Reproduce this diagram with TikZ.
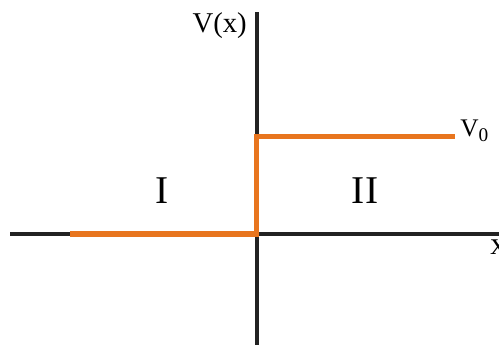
\documentclass[tikz,border=0pt]{standalone}
\usepackage{fontspec}
\setmainfont{Liberation Serif}
\usepackage{tikz}

\definecolor{steporange}{RGB}{232,117,30}
\definecolor{axisgray}{RGB}{34,34,34}

\tikzset{
  axisline/.style={draw=axisgray, line width=2.4pt},
  potline/.style={draw=steporange, line width=3.8pt},
  lbl/.style={inner sep=0pt, text=black}
}

\begin{document}
\begin{tikzpicture}[x=0.75pt,y=0.75pt]
    \useasboundingbox (0,0) rectangle (499,344);
    % axes
    \coordinate (xl) at (10,110);   \coordinate (xr) at (505,110);
    \coordinate (yb) at (257,-5);   \coordinate (yt) at (257,332);
    \draw[axisline] (xl) -- (xr);
    \draw[axisline] (yb) -- (yt);
    % potential step
    \coordinate (s0) at (70,110);  \coordinate (s1) at (256.5,110);
    \coordinate (s2) at (256.5,207.5); \coordinate (s3) at (455,207.5);
    \draw[potline] (s0) -- (s1) -- (s2) -- (s3);
    % labels
    \node[lbl, anchor=base east] (vx) at (247,312) {\fontsize{21.5}{24}\selectfont V(x)};
    \node[lbl, anchor=base west] (vnull) at (460,208) {\fontsize{19}{22}\selectfont V\raisebox{-0.45ex}{\fontsize{14.5}{15}\selectfont 0}};
    \node[lbl, anchor=base west] (xlab) at (490,90) {\fontsize{24}{26}\selectfont x};
    \node[lbl, anchor=base] (reg1) at (162,141) {\fontsize{29.5}{32}\selectfont I};
    \node[lbl, anchor=base] (reg2) at (365,141) {\fontsize{29.5}{32}\selectfont II};
\end{tikzpicture}
\end{document}
